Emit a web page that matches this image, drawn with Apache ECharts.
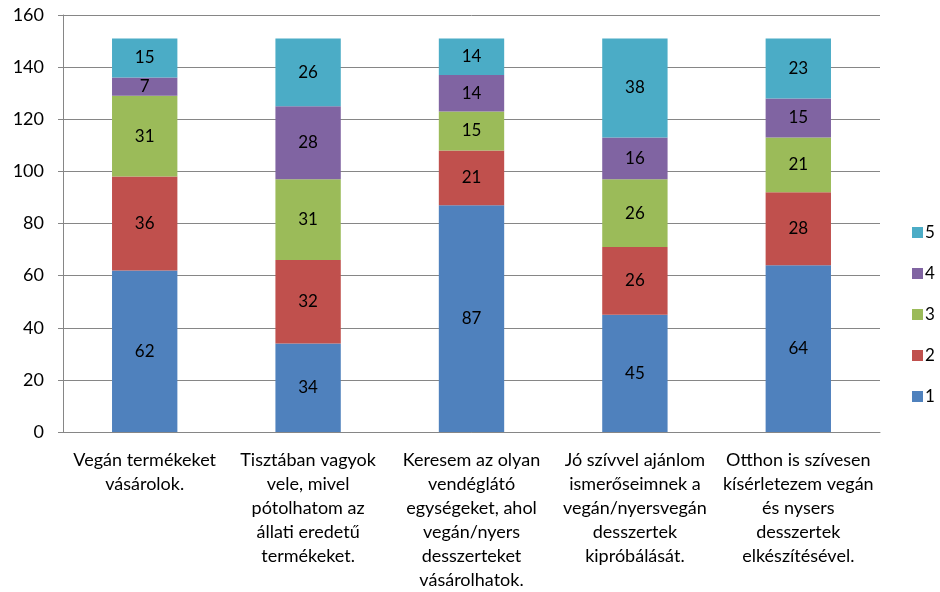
<!DOCTYPE html>
<html>
<head>
<meta charset="utf-8">
<script src="https://cdn.jsdelivr.net/npm/echarts@6/dist/echarts.min.js"></script>
<style>
    html, body { margin: 0; padding: 0; background: #fff; }
    #chart { width: 940px; height: 592px; }
</style>
</head>
<body>
<div id="chart"></div>
<script>
    // kategóriák (sortörésekkel, ahogy az eredeti ábrán)
    const categories = [
        'Vegán termékeket\nvásárolok.',
        'Tisztában vagyok\nvele, mivel\npótolhatom az\nállati eredetű\ntermékeket.',
        'Keresem az olyan\nvendéglátó\negységeket, ahol\nvegán/nyers\ndesszerteket\nvásárolhatok.',
        'Jó szívvel ajánlom\nismerőseimnek a\nvegán/nyersvegán\ndesszertek\nkipróbálását.',
        'Otthon is szívesen\nkísérletezem vegán\nés nysers\ndesszertek\nelkészítésével.'
    ];
    const seriesNames = ['1', '2', '3', '4', '5'];
    const values1 = [62, 34, 87, 45, 64];
    const values2 = [36, 32, 21, 26, 28];
    const values3 = [31, 31, 15, 26, 21];
    const values4 = [7, 28, 14, 16, 15];
    const values5 = [15, 26, 14, 38, 23];
    const yTicks = { min: 0, max: 160, interval: 20 };

    const allValues = [values1, values2, values3, values4, values5];
    const colors = ['#4F81BD', '#C0504D', '#9BBB59', '#8064A2', '#4BACC6'];
    const font = 'Lato, "Open Sans", sans-serif';

    let myChart = echarts.init(document.getElementById('chart'));
    myChart.setOption({
        animation: false,
        color: colors,
        textStyle: { fontFamily: font },
        grid: {
            left: 63,
            right: 60,
            top: 15,
            bottom: 160
        },
        legend: {
            data: ['5', '4', '3', '2', '1'],
            orient: 'vertical',
            left: 907,
            top: 219,
            itemWidth: 11,
            itemHeight: 11,
            itemGap: 24,
            icon: 'rect',
            textStyle: { color: '#000', fontSize: 17, fontFamily: font, padding: [0, 0, 0, -3] }
        },
        xAxis: {
            type: 'category',
            data: categories,
            axisLine: { lineStyle: { color: '#868686' } },
            axisTick: { length: 6, lineStyle: { color: '#868686' } },
            axisLabel: {
                interval: 0,
                color: '#000',
                fontSize: 18,
                lineHeight: 24,
                margin: 16,
                fontFamily: font
            }
        },
        yAxis: {
            type: 'value',
            min: yTicks.min,
            max: yTicks.max,
            interval: yTicks.interval,
            axisLine: { show: true, lineStyle: { color: '#868686' } },
            axisTick: { show: true, length: 5, lineStyle: { color: '#868686' } },
            splitLine: { lineStyle: { color: '#868686' } },
            axisLabel: { color: '#000', fontSize: 18, margin: 19, fontFamily: font }
        },
        series: seriesNames.map(function (name, i) {
            return {
                name: name,
                type: 'bar',
                stack: 'total',
                barWidth: '40%',
                data: allValues[i],
                label: {
                    show: true,
                    position: 'inside',
                    color: '#000',
                    fontSize: 17,
                    fontFamily: font
                }
            };
        })
    });
</script>
</body>
</html>
